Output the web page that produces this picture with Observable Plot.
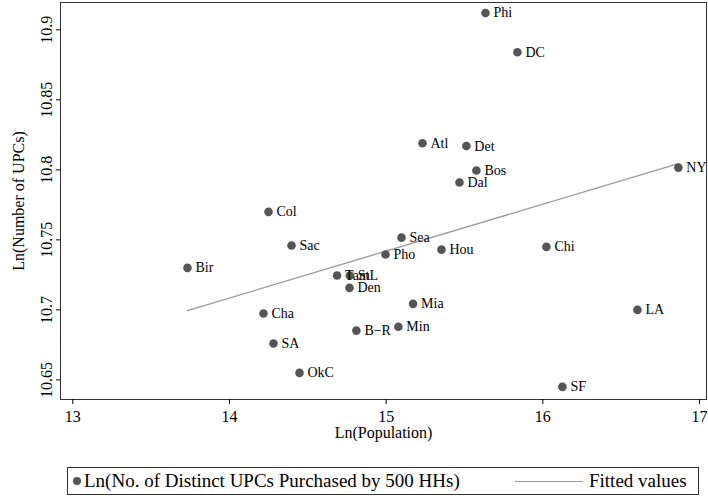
<!DOCTYPE html>
<html>
<head>
<meta charset="utf-8">
<script src="https://cdn.jsdelivr.net/npm/d3@7"></script>
<script src="https://cdn.jsdelivr.net/npm/@observablehq/plot@0.6"></script>
<style>
  body { margin: 0; background: #fff; font-family: "Liberation Serif", serif; }
  #wrap { position: relative; width: 708px; height: 498px; }
  #legend { position: absolute; left: 67px; top: 467px; width: 632px; height: 28px; border: 1px solid #333; box-sizing: border-box; font-size: 19px; line-height: 22px; color: #000; }
  #legend .dot { position: absolute; left: 5px; top: 9px; width: 8px; height: 8px; border-radius: 50%; background: #555; }
  #legend .t1 { position: absolute; left: 16px; top: 2px; white-space: nowrap; }
  #legend .ln { position: absolute; left: 447px; top: 13px; width: 68px; height: 0; border-top: 1.3px solid #999; }
  #legend .t2 { position: absolute; left: 521px; top: 2px; white-space: nowrap; }
</style>
</head>
<body>
<div id="wrap">
  <div id="chart"></div>
  <div id="legend">
    <span class="dot"></span><span class="t1">Ln(No. of Distinct UPCs Purchased by 500 HHs)</span>
    <span class="ln"></span><span class="t2">Fitted values</span>
  </div>
</div>
<script>
const cities = ["Phi","DC","Atl","Det","Bos","Dal","NY","Col","Sac","Sea","Pho","Hou","Chi","Bir","Tam","StL","Den","Mia","Cha","SA","B\u2212R","Min","OkC","SF","LA"];
const lnPop  = [15.634,15.838,15.232,15.512,15.576,15.468,16.865,14.249,14.396,15.098,14.996,15.353,16.023,13.732,14.687,14.768,14.766,15.172,14.217,14.281,14.810,15.078,14.447,16.125,16.604];
const lnUPC  = [10.912,10.884,10.819,10.817,10.7995,10.791,10.8016,10.770,10.746,10.7516,10.7395,10.743,10.745,10.730,10.7245,10.7245,10.7157,10.7043,10.6974,10.676,10.6852,10.688,10.655,10.645,10.700];
// Fitted values (at the ends of the fitted line)
const fitX = [13.732, 16.865];
const fitY = [10.6995, 10.8045];
const xTicks = [13, 14, 15, 16, 17];
const yTicks = [10.65, 10.7, 10.75, 10.8, 10.85, 10.9];
const xTitle = "Ln(Population)";
const yTitle = "Ln(Number of UPCs)";

const data = cities.map((c, i) => ({city: c, x: lnPop[i], y: lnUPC[i]}));
const fit = fitX.map((x, i) => ({x, y: fitY[i]}));

const chart = Plot.plot({
  width: 708, height: 455,
  marginLeft: 60, marginRight: 2, marginTop: 2, marginBottom: 56,
  style: {fontFamily: "Liberation Serif", fontSize: "16px", background: "#fff", color: "#000"},
  x: {domain: [12.9215, 17.0447]},
  y: {domain: [10.636, 10.9195]},
  marks: [
    Plot.frame({stroke: "#333"}),
    Plot.axisX({ticks: xTicks, tickSize: 5, tickPadding: 6, tickFormat: d => String(d), label: null, fontSize: 16}),
    Plot.axisY({ticks: yTicks, tickSize: 4, tickFormat: () => "", label: null}),
    Plot.text(yTicks, {frameAnchor: "left", y: d => d, text: d => String(d), rotate: -90, dx: -14, fontSize: 16, textAnchor: "middle", lineAnchor: "middle"}),
    Plot.text([xTitle], {frameAnchor: "bottom", text: d => d, dy: 38, fontSize: 16, textAnchor: "middle"}),
    Plot.text([yTitle], {frameAnchor: "left", text: d => d, dx: -42, rotate: -90, fontSize: 16, textAnchor: "middle", lineAnchor: "middle"}),
    Plot.line(fit, {x: "x", y: "y", stroke: "#999", strokeWidth: 1.3}),
    Plot.dot(data, {x: "x", y: "y", r: 4.3, fill: "#555", stroke: "none"}),
    Plot.text(data, {x: "x", y: "y", text: "city", dx: 8, textAnchor: "start", fontSize: 14, fill: "#000"})
  ]
});
document.getElementById("chart").appendChild(chart);
</script>
</body>
</html>
